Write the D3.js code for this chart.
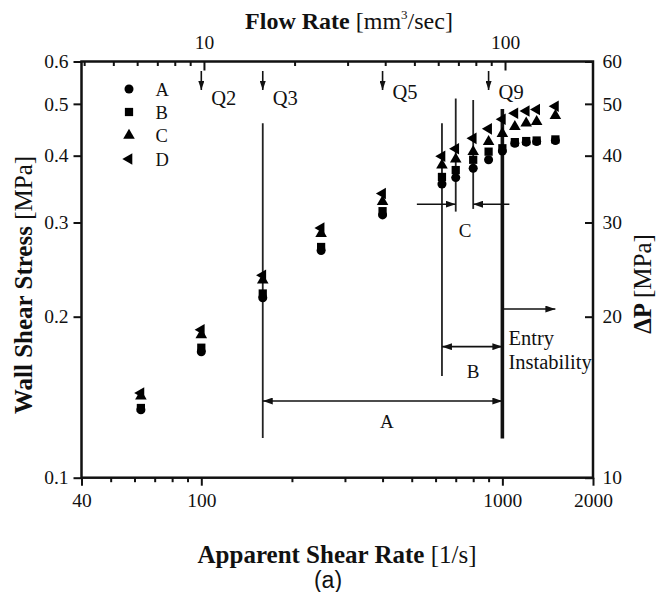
<!DOCTYPE html>
<html>
<head>
<meta charset="utf-8">
<script src="https://cdn.jsdelivr.net/npm/d3@7"></script>
<style>
  html, body { margin: 0; padding: 0; background: #fff; }
  svg { display: block; font-family: "Liberation Serif", "Times New Roman", serif; }
  svg text { font-family: "Liberation Serif", "Times New Roman", serif; }
  svg text.sans { font-family: "Liberation Sans", Arial, sans-serif; }
</style>
</head>
<body>
<svg id="chart" width="656" height="592"></svg>
<script>
// Apparent shear rate [1/s] for each measurement
const shearRates = [63, 100, 160, 250, 400, 630, 700, 800, 900, 1000, 1100, 1200, 1300, 1500];
// Wall shear stress [MPa] per series
const seriesA = [0.134, 0.172, 0.217, 0.266, 0.310, 0.354, 0.364, 0.379, 0.393, 0.408, 0.422, 0.424, 0.425, 0.427];
const seriesB = [0.135, 0.175, 0.221, 0.270, 0.315, 0.365, 0.376, 0.393, 0.407, 0.413, 0.424, 0.426, 0.427, 0.429];
const seriesC = [0.142, 0.185, 0.234, 0.286, 0.328, 0.384, 0.394, 0.407, 0.425, 0.440, 0.453, 0.460, 0.463, 0.475];
const seriesD = [0.144, 0.189, 0.239, 0.293, 0.340, 0.399, 0.412, 0.431, 0.449, 0.468, 0.480, 0.485, 0.488, 0.495];
const seriesNames = ["A", "B", "C", "D"];

// Axis ticks
const shearTickLabels = [40, 100, 1000, 2000];
const shearMinorTicks = [50, 60, 70, 80, 90, 200, 300, 400, 500, 600, 700, 800, 900];
const stressTickLabels = [0.1, 0.2, 0.3, 0.4, 0.5, 0.6];
const pressureTickLabels = [10, 20, 30, 40, 50, 60];
const flowTickLabels = [10, 100];
const flowMinorTicks = [4, 5, 6, 7, 8, 9, 20, 30, 40, 50, 60, 70, 80, 90];
const flowDomain = [3.92, 196];

// Flow-rate markers
const qLabels = ["Q2", "Q3", "Q5", "Q9"];
const qRates = [100, 160, 400, 900];

// Regime boundaries: [shear rate, stress top, stress bottom]
const boundaryLines = [[160, 0.46, 0.1186], [630, 0.46, 0.1549], [700, 0.5116, 0.3144], [800, 0.5083, 0.3181]];
const instabilityLine = [1000, 0.489, 0.1184];
// Range arrows: [from rate, to rate, stress, double-headed]
const rangeArrows = [[160, 1000, 0.1391, true], [630, 1000, 0.1758, true], [520, 700, 0.3246, false], [1055, 800, 0.3246, false], [1000, 1500, 0.2067, false]];
// Range labels: [text, rate, stress]
const rangeLabels = [["A", 413, 0.1239], ["B", 799, 0.1536], ["C", 752, 0.2824]];

const svg = d3.select("#chart");
const L = 81.5, R = 593, T = 61.5, B = 477.7;
const serif = "Liberation Serif, Times New Roman, serif";

const x = d3.scaleLog().domain([40, 2000]).range([L, R]);
const xFlow = d3.scaleLog().domain(flowDomain).range([L, R]);
const y = d3.scaleLog().domain([0.1, 0.6]).range([B, T]);
const yP = d3.scaleLog().domain([10, 60]).range([B, T]);

const defs = svg.append("defs");
defs.append("marker").attr("id", "head").attr("viewBox", "0 0 10 7")
  .attr("refX", 10).attr("refY", 3.5).attr("markerWidth", 10).attr("markerHeight", 7)
  .attr("markerUnits", "userSpaceOnUse").attr("orient", "auto-start-reverse")
  .append("path").attr("d", "M0,0 L10,3.5 L0,7 Z").attr("fill", "#111");
defs.append("marker").attr("id", "qhead").attr("viewBox", "0 0 9 6")
  .attr("refX", 9).attr("refY", 3).attr("markerWidth", 9).attr("markerHeight", 6)
  .attr("markerUnits", "userSpaceOnUse").attr("orient", "auto")
  .append("path").attr("d", "M0,0 L9,3 L0,6 Z").attr("fill", "#111");

function styleAxis(g, size) {
  g.attr("font-family", serif).style("font-family", serif);
  g.select(".domain").remove();
  g.selectAll("line").attr("stroke", "#111").attr("stroke-width", 2);
  g.selectAll("text").style("font-family", serif).attr("font-size", size).attr("fill", "#111");
}

const fmt = d => String(d);

// Bottom axis: shear rate
svg.append("g").attr("transform", `translate(0,${B})`)
  .call(d3.axisBottom(x).tickValues(shearMinorTicks).tickSize(4.5).tickFormat(""))
  .call(g => styleAxis(g, 19.5));
svg.append("g").attr("transform", `translate(0,${B})`)
  .call(d3.axisBottom(x).tickValues(shearTickLabels).tickSize(8).tickPadding(7).tickFormat(fmt))
  .call(g => styleAxis(g, 19.5));

// Top axis: flow rate, ticks pointing inward
svg.append("g").attr("transform", `translate(0,${T})`)
  .call(d3.axisTop(xFlow).tickValues(flowMinorTicks).tickSizeInner(-4.5).tickSizeOuter(0).tickFormat(""))
  .call(g => styleAxis(g, 19.5));
svg.append("g").attr("transform", `translate(0,${T})`)
  .call(d3.axisTop(xFlow).tickValues(flowTickLabels).tickSizeInner(-9).tickSizeOuter(0).tickPadding(13).tickFormat(fmt))
  .call(g => styleAxis(g, 19.5));

// Left axis: wall shear stress
svg.append("g").attr("transform", `translate(${L},0)`)
  .call(d3.axisLeft(y).tickValues(stressTickLabels).tickSize(8).tickPadding(5).tickFormat(d3.format(".1f")))
  .call(g => styleAxis(g, 19.5));

// Right axis: pressure drop, ticks pointing inward
svg.append("g").attr("transform", `translate(${R},0)`)
  .call(d3.axisRight(yP).tickValues(pressureTickLabels).tickSizeInner(-8).tickSizeOuter(0).tickPadding(9.5).tickFormat(fmt))
  .call(g => styleAxis(g, 19.5));

// Frame
svg.append("rect").attr("x", L).attr("y", T).attr("width", R - L).attr("height", B - T)
  .attr("fill", "none").attr("stroke", "#111").attr("stroke-width", 2.5);

// Regime boundary lines
svg.append("g").selectAll("line").data(boundaryLines).join("line")
  .attr("x1", d => x(d[0])).attr("x2", d => x(d[0]))
  .attr("y1", d => y(d[1])).attr("y2", d => y(d[2]))
  .attr("stroke", "#222").attr("stroke-width", 1.8);
svg.append("line")
  .attr("x1", x(instabilityLine[0])).attr("x2", x(instabilityLine[0]))
  .attr("y1", y(instabilityLine[1])).attr("y2", y(instabilityLine[2]))
  .attr("stroke", "#111").attr("stroke-width", 3.6);

// Range arrows
svg.append("g").selectAll("line").data(rangeArrows).join("line")
  .attr("x1", d => x(d[0])).attr("x2", d => x(d[1]))
  .attr("y1", d => y(d[2])).attr("y2", d => y(d[2]))
  .attr("stroke", "#111").attr("stroke-width", 1.6)
  .attr("marker-end", "url(#head)")
  .attr("marker-start", d => d[3] ? "url(#head)" : null);

svg.append("g").selectAll("text").data(rangeLabels).join("text")
  .attr("x", d => x(d[1])).attr("y", d => y(d[2]))
  .attr("text-anchor", "middle").attr("font-size", 19).attr("fill", "#111")
  .text(d => d[0]);

const entry = svg.append("text").attr("font-size", 20.5).attr("fill", "#111");
entry.append("tspan").attr("x", x(1048)).attr("y", y(0.177)).text("Entry");
entry.append("tspan").attr("x", x(1048)).attr("y", y(0.1597)).text("Instability");

// Flow-rate markers with arrows
const qg = svg.append("g").selectAll("g").data(qRates).join("g");
qg.append("line")
  .attr("x1", d => x(d)).attr("x2", d => x(d))
  .attr("y1", 71).attr("y2", 90)
  .attr("stroke", "#111").attr("stroke-width", 1.6)
  .attr("marker-end", "url(#qhead)");
qg.append("text")
  .attr("x", d => x(d) + 10)
  .attr("y", (d, i) => i < 2 ? 104.5 : 98.5)
  .attr("font-size", 20.5).attr("fill", "#111")
  .text((d, i) => qLabels[i]);

// Data markers
const symbols = [
  { type: d3.symbolCircle, size: 64, rot: 0 },
  { type: d3.symbolSquare, size: 68, rot: 0 },
  { type: d3.symbolTriangle, size: 58, rot: 0 },
  { type: d3.symbolTriangle, size: 58, rot: -90 }
];
const allSeries = [seriesA, seriesB, seriesC, seriesD];
allSeries.forEach((vals, si) => {
  const sym = symbols[si];
  svg.append("g").selectAll("path").data(vals).join("path")
    .attr("d", d3.symbol().type(sym.type).size(sym.size))
    .attr("transform", (v, i) => `translate(${x(shearRates[i])},${y(v)}) rotate(${sym.rot})`)
    .attr("fill", "#000");
});

// Legend
const legendBaselines = [95.5, 118.5, 142, 165.5];
seriesNames.forEach((name, i) => {
  const sym = symbols[i];
  svg.append("path")
    .attr("d", d3.symbol().type(sym.type).size(sym.size)())
    .attr("transform", `translate(129,${legendBaselines[i] - 6.5}) rotate(${sym.rot})`)
    .attr("fill", "#000");
  svg.append("text").attr("x", 155.5).attr("y", legendBaselines[i])
    .attr("font-size", 18.5).attr("fill", "#111").text(name);
});

// Axis titles
const topTitle = svg.append("text").attr("x", 349).attr("y", 28.5)
  .attr("text-anchor", "middle").attr("font-size", 24).attr("fill", "#111");
topTitle.append("tspan").attr("font-weight", "bold").text("Flow Rate ");
topTitle.append("tspan").text("[mm");
topTitle.append("tspan").attr("font-size", 13).attr("dy", -10).text("3");
topTitle.append("tspan").attr("dy", 10).text("/sec]");

const bottomTitle = svg.append("text").attr("x", 337).attr("y", 563)
  .attr("text-anchor", "middle").attr("font-size", 25).attr("fill", "#111");
bottomTitle.append("tspan").attr("font-weight", "bold").text("Apparent Shear Rate ");
bottomTitle.append("tspan").text("[1/s]");

const leftTitle = svg.append("text").attr("transform", "translate(32,285) rotate(-90)")
  .attr("text-anchor", "middle").attr("font-size", 25).attr("fill", "#111");
leftTitle.append("tspan").attr("font-weight", "bold").text("Wall Shear Stress ");
leftTitle.append("tspan").text("[MPa]");

const rightTitle = svg.append("text").attr("transform", "translate(651,284) rotate(-90)")
  .attr("text-anchor", "middle").attr("font-size", 25).attr("fill", "#111");
rightTitle.append("tspan").attr("font-weight", "bold").text("ΔP ");
rightTitle.append("tspan").text("[MPa]");

svg.append("text").attr("class", "sans").attr("x", 328).attr("y", 588)
  .attr("text-anchor", "middle")
  .attr("font-size", 23).attr("fill", "#111").text("(a)");
</script>
</body>
</html>
